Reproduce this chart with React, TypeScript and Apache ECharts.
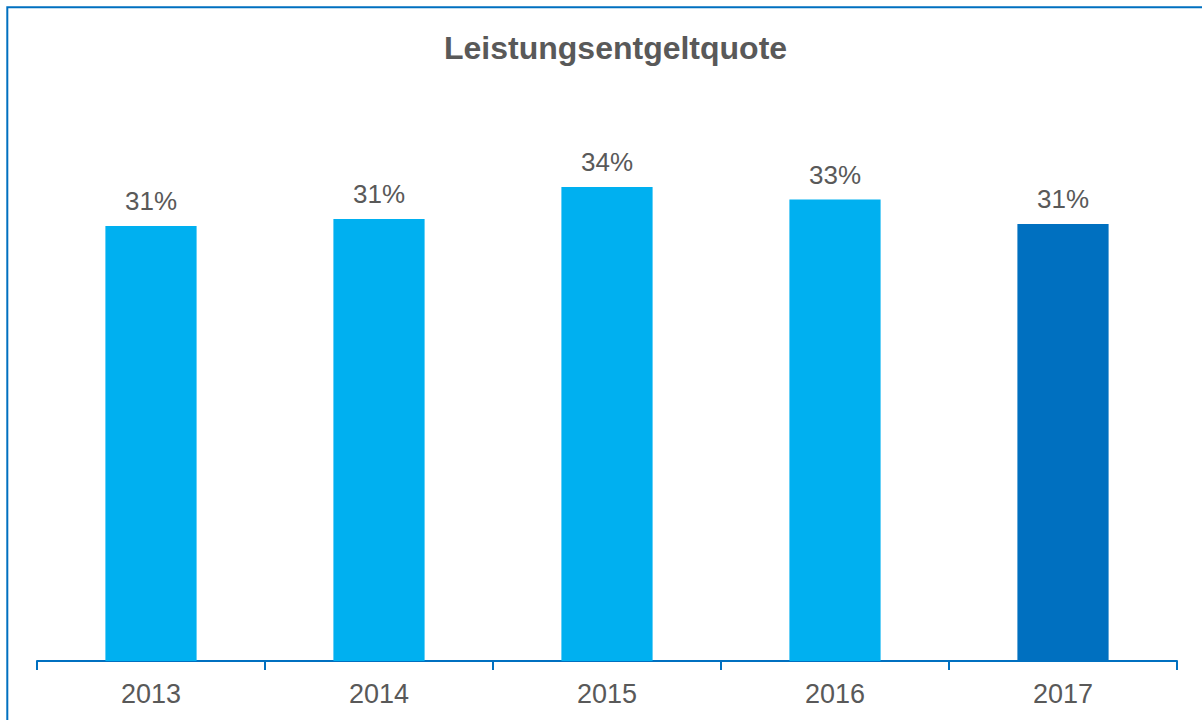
import React, { useEffect, useRef } from "react";
import * as echarts from "echarts";

const title = "Leistungsentgeltquote";
const categories = ["2013", "2014", "2015", "2016", "2017"];
const values = [31.2, 31.7, 34.0, 33.1, 31.35];
const labels = ["31%", "31%", "34%", "33%", "31%"];
const barColors = ["#00B0F0", "#00B0F0", "#00B0F0", "#00B0F0", "#0070C0"];

export default function App() {
  const ref = useRef<HTMLDivElement>(null);
  useEffect(() => {
    if (!ref.current) return;
    const chart = echarts.init(ref.current, null, { renderer: "svg" });
    const font = "'Liberation Sans', Arial, sans-serif";
    chart.setOption({
      animation: false,
      backgroundColor: "#ffffff",
      title: {
        text: title,
        left: 439,
        top: 27,
        textStyle: { fontFamily: font, fontSize: 32, fontWeight: "bold", color: "#595959" },
      },
      graphic: [
        {
          type: "rect",
          shape: { x: 7.3, y: 7.3, width: 1400, height: 900 },
          style: { fill: "none", stroke: "#0070C0", lineWidth: 2 },
          silent: true,
        },
      ],
      grid: { left: 37, right: 25, top: 103.4, bottom: 59, containLabel: false },
      xAxis: {
        type: "category",
        data: categories,
        axisLine: { lineStyle: { color: "#0070C0", width: 2 } },
        axisTick: { show: true, length: 9, lineStyle: { color: "#0070C0", width: 2 } },
        axisLabel: { fontFamily: font, fontSize: 27, color: "#595959", margin: 19 },
      },
      yAxis: {
        type: "value",
        min: 0,
        max: 40,
        show: false,
        splitLine: { show: false },
      },
      series: [
        {
          type: "bar",
          barWidth: "40%",
          data: values.map((v, i) => ({ value: v, itemStyle: { color: barColors[i] } })),
          label: {
            show: true,
            position: "top",
            distance: 12,
            fontFamily: font,
            fontSize: 26,
            color: "#595959",
            formatter: (p: any) => labels[p.dataIndex],
          },
        },
      ],
    });
    return () => chart.dispose();
  }, []);
  return (
    <div
      ref={ref}
      style={{ position: "absolute", left: 0, top: 0, width: 1202, height: 720 }}
    />
  );
}
